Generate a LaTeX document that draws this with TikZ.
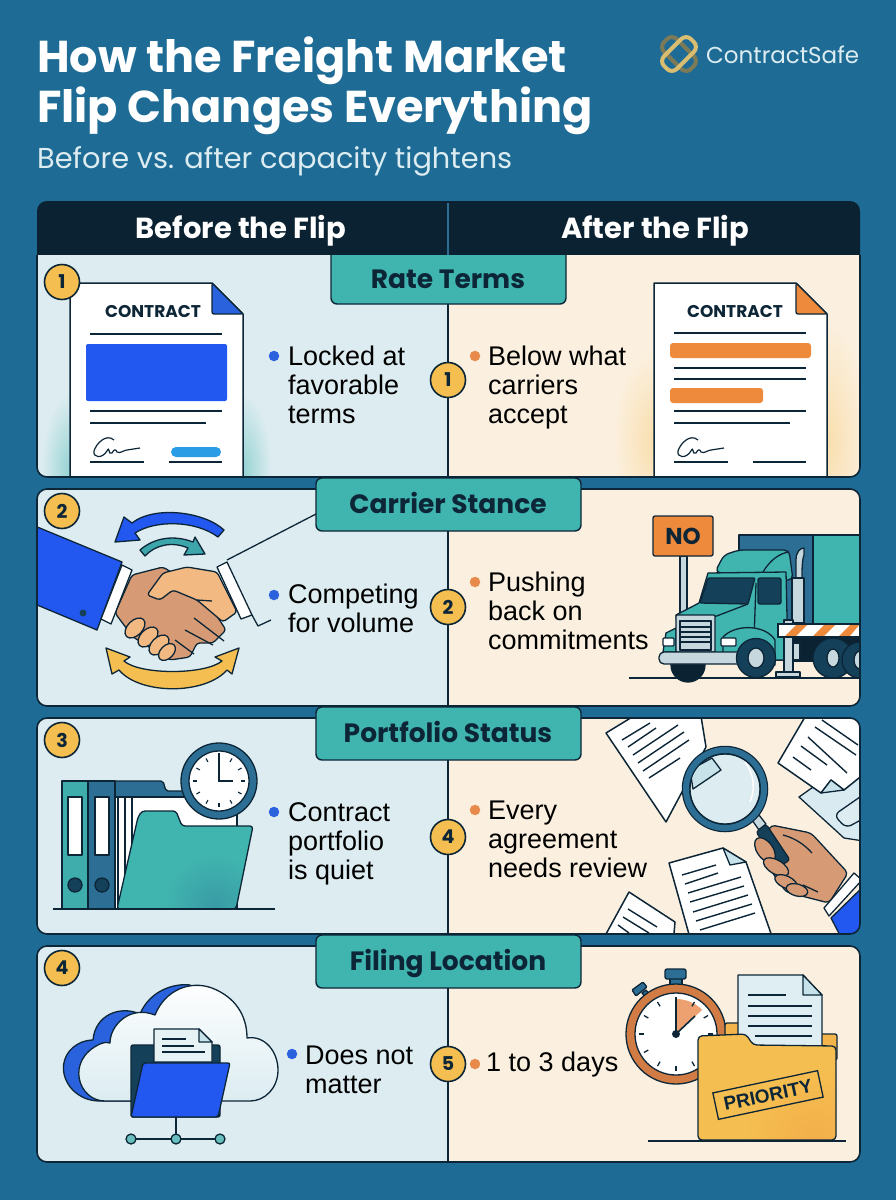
\documentclass[tikz,border=0pt]{standalone}
\usepackage{fontspec}
\setmainfont{Liberation Sans}
\newfontfamily\headfont{Poppins}
\definecolor{cover}{RGB}{30,108,150}
\definecolor{ink}{RGB}{13,38,55}
\definecolor{headbar}{RGB}{11,34,50}
\definecolor{panelblue}{RGB}{220,236,240}
\definecolor{panelcream}{RGB}{251,240,224}
\definecolor{tabteal}{RGB}{64,180,175}
\definecolor{badgegold}{RGB}{245,190,80}
\definecolor{royal}{RGB}{34,87,240}
\definecolor{pillblue}{RGB}{42,155,229}
\definecolor{dotblue}{RGB}{42,98,222}
\definecolor{dotorange}{RGB}{232,138,76}
\definecolor{barorange}{RGB}{238,138,60}
\definecolor{steel}{RGB}{44,110,148}
\definecolor{navy}{RGB}{20,64,90}
\definecolor{metal}{RGB}{198,215,221}
\definecolor{skin}{RGB}{214,155,116}
\definecolor{skinlight}{RGB}{242,185,130}
\definecolor{paleblue}{RGB}{200,226,234}
\definecolor{logogold}{RGB}{217,190,114}
\tikzset{
    titletext/.style={anchor=base west, inner sep=0, text=white, font=\headfont\bfseries\fontsize{44.6}{44.6}\selectfont},
    headtext/.style={anchor=base, inner sep=0, text=white, font=\headfont\bfseries\fontsize{29}{29}\selectfont},
    tablabel/.style={anchor=base, inner sep=0, text=ink, font=\headfont\bfseries\fontsize{26.5}{26.5}\selectfont},
    tabbox/.style={draw=ink, line width=1.4pt, fill=tabteal, rounded corners=6pt},
    panelline/.style={draw=ink, line width=1.6pt, rounded corners=10pt},
    badge/.style={circle, draw=ink, line width=1.6pt, fill=badgegold, minimum size=35pt, inner sep=0, text=ink, font=\headfont\bfseries\fontsize{19}{19}\selectfont},
    bluedot/.style={circle, fill=dotblue, minimum size=10.5pt, inner sep=0},
    orangedot/.style={circle, fill=dotorange, minimum size=10.5pt, inner sep=0},
    bodytext/.style={anchor=west, inner sep=0, align=left, text=black, font=\fontsize{27}{29}\selectfont, execute at begin node=\strut, execute at end node=\strut},
    paper/.style={draw=ink, line width=1.5pt, fill=white, line join=round},
    rule/.style={draw=ink, line width=1.4pt},
    sketch/.style={draw=ink, line width=1.3pt, line join=round},
    thinrule/.style={draw=ink, line width=1.2pt},
    doctitle/.style={inner sep=0, text=ink, font=\headfont\bfseries\fontsize{17}{17}\selectfont},
}
\newcommand{\signmark}[2]{\draw[ink, line width=1.2pt, shift={(#1,#2)}] (20,-18) .. controls (12,-25) and (2,-14) .. (0,-7) .. controls (-1,0) and (8,1) .. (13,-7) .. controls (16,-13) and (14,-2) .. (18,-5) .. controls (20,-9) and (22,-9) .. (23,-6) .. controls (26,-4) and (30,-8) .. (33,-8) -- (46,-10);}
\begin{document}
\begin{tikzpicture}[x=1pt, y=-1pt]
    \useasboundingbox (0,0) rectangle (896,1200);
    \fill[cover] (0,0) rectangle (896,1200);

    % heading
    \node[titletext] (titleone) at (37,72) {How the Freight Market};
    \node[titletext] (titletwo) at (37,122) {Flip Changes Everything};
    \node[anchor=base west, inner sep=0, text=panelblue, font=\headfont\fontsize{28.8}{28.8}\selectfont] (subtitle) at (37,168) {Before vs. after capacity tightens};
    \draw[logogold!55!ink, line width=4pt, rounded corners=7pt, rotate around={-45:(679,54)}] (660,45) rectangle (698,63);
    \draw[logogold, line width=4pt, rounded corners=7pt, rotate around={45:(679,54)}] (660,45) rectangle (698,63);
    \node[anchor=west, inner sep=0, text=panelblue, font=\headfont\fontsize{23}{23}\selectfont] (logotext) at (706,55) {ContractSafe};

    % column header
    \fill[headbar, rounded corners=10pt] (37,201) rectangle (860,270);
    \fill[headbar] (37,240) rectangle (860,270);
    \draw[steel, line width=1.2pt] (448,203) -- (448,255);

    % panel 1
    \begin{scope}
        \clip[rounded corners=10pt] (37,235) rectangle (860,477);
        \fill[panelblue] (37,255) rectangle (448,477);
        \fill[panelcream] (448,255) rectangle (860,477);
        \shade[inner color=tabteal!45!panelblue, outer color=panelblue] (70,470) circle[x radius=28pt, y radius=75pt];
        \shade[inner color=tabteal!45!panelblue, outer color=panelblue] (243,470) circle[x radius=28pt, y radius=75pt];
        \shade[inner color=badgegold!35!panelcream, outer color=panelcream] (654,440) circle[x radius=42pt, y radius=90pt];
        \shade[inner color=badgegold!35!panelcream, outer color=panelcream] (827,440) circle[x radius=42pt, y radius=120pt];
        \draw[paper] (70,490) -- (70,283) -- (212,283) -- (243,314) -- (243,490);
        \draw[sketch, fill=dotblue, rounded corners=2pt] (212,283) -- (212,314) -- (243,314) -- cycle;
        \node[doctitle] (contractone) at (153,312) {CONTRACT};
        \draw[rule] (90,334) -- (222,334);
        \fill[royal, rounded corners=2pt] (86,344) rectangle (227,401);
        \draw[rule] (90,411) -- (222,411);
        \draw[rule] (90,423) -- (206,423);
        \signmark{94}{458}
        \draw[rule] (90,462) -- (144,462);
        \draw[rule] (169,462) -- (222,462);
        \fill[pillblue, rounded corners=5pt] (171,447) rectangle (221,457);

        \draw[paper] (654,490) -- (654,283) -- (796,283) -- (827,314) -- (827,490);
        \draw[sketch, fill=barorange, rounded corners=2pt] (796,283) -- (796,314) -- (827,314) -- cycle;
        \node[doctitle] (contracttwo) at (735,312) {CONTRACT};
        \draw[rule] (674,333) -- (806,333);
        \fill[barorange, rounded corners=3pt] (670,343) rectangle (811,358);
        \draw[rule] (674,368) -- (806,368);
        \draw[rule] (674,379) -- (806,379);
        \fill[barorange, rounded corners=3pt] (670,388) rectangle (763,403);
        \draw[rule] (674,411) -- (806,411);
        \draw[rule] (674,423) -- (790,423);
        \signmark{678}{458}
        \draw[rule] (674,462) -- (728,462);
        \draw[rule] (753,462) -- (806,462);
    \end{scope}
    \draw[panelline] (37,255) -- (37,477) -- (860,477) -- (860,255);

    % panel 2
    \begin{scope}
        \clip[rounded corners=10pt] (37,489) rectangle (860,706);
        \fill[panelblue] (37,489) rectangle (448,706);
        \fill[panelcream] (448,489) rectangle (860,706);
        \draw[sketch, fill=royal] (224,530) .. controls (205,512) and (155,505) .. (132,523) -- (124,517) -- (115,542) -- (140,540) -- (135,533) .. controls (155,520) and (195,520) .. (218,537) -- cycle;
        \draw[sketch, fill=tabteal!80!steel] (140,550) .. controls (155,537) and (175,535) .. (193,542) -- (195,537) -- (205,554) -- (184,555) -- (188,548) .. controls (172,541) and (155,545) .. (145,556) -- cycle;
        \draw[sketch, fill=badgegold] (106,648) -- (130,657) -- (124,661) .. controls (140,675) and (205,675) .. (222,661) -- (215,657) -- (239,648) -- (232,674) -- (227,670) .. controls (205,695) and (140,695) .. (119,670) -- (112,674) -- cycle;
        \draw[sketch, fill=royal] (30,524) -- (122,562) -- (97,630) -- (30,602);
        \fill[navy] (83,613) circle (3.5pt);
        \draw[sketch, fill=skin, rounded corners=3pt] (132,575) -- (163,567) -- (200,590) -- (226,630) -- (213,643) -- (197,643) -- (190,657) -- (170,660) -- (133,637) -- (115,613) -- cycle;
        \draw[sketch, fill=skinlight] (135,628) circle[x radius=12pt, y radius=7.5pt, rotate=45];
        \draw[sketch, fill=skinlight] (148,637) circle[x radius=12pt, y radius=7.5pt, rotate=45];
        \draw[sketch, fill=skinlight] (159,645) circle[x radius=12pt, y radius=7.5pt, rotate=45];
        \draw[sketch, fill=skinlight] (167,652) circle[x radius=10pt, y radius=6.5pt, rotate=45];
        \draw[sketch, fill=skinlight, rounded corners=3pt] (147,595) -- (163,573) -- (187,567) -- (217,572) -- (237,612) -- (223,622) -- (197,600) -- (173,590) -- (160,600) -- cycle;
        \draw[sketch] (197,600) -- (212,601);
        \draw[sketch] (194,618) -- (224,641);
        \draw[sketch] (185,630) -- (213,645);
        \draw[sketch] (175,640) -- (194,654);
        \draw[sketch, fill=white] (122,565) -- (132,570) -- (111,624) -- (101,619) -- cycle;
        \draw[sketch, fill=white] (217,567) -- (227,562) -- (252,615) -- (241,619) -- cycle;
        \draw[sketch] (227,560) -- (316,514);
        \draw[sketch] (252,615) -- (258,626) -- (271,620);

        \fill[steel] (739,535) rectangle (813,623);
        \fill[tabteal] (813,535) rectangle (870,623);
        \draw[sketch] (739,623) -- (739,535) -- (870,535);
        \draw[sketch] (813,535) -- (813,623);
        \fill[headbar] (793,636) rectangle (870,662);
        \draw[sketch, fill=navy] (833,658) circle (20pt);
        \draw[sketch, fill=metal] (833,658) circle[x radius=6pt, y radius=9pt];
        \draw[sketch, fill=navy] (860,660) circle (18pt);
        \draw[sketch, fill=metal] (860,660) circle[x radius=6pt, y radius=9pt];
        \draw[rule] (629,678) -- (860,678);
        \draw[sketch, fill=metal] (680,556) rectangle (687,615);
        \draw[sketch, fill=barorange, rounded corners=2pt] (653,516) rectangle (713,556);
        \node[inner sep=0, text=ink, font=\headfont\bfseries\fontsize{23}{23}\selectfont] (nosign) at (683,536) {NO};
        \draw[sketch, fill=metal] (796,578) -- (796,560) .. controls (796,552) and (800,548) .. (804,548) -- (804,555) .. controls (802,560) and (802,570) .. (802,578) -- cycle;
        \draw[sketch, fill=metal] (792,578) rectangle (804,623);
        \draw[sketch, fill=metal] (774,643) rectangle (800,660);
        \draw[sketch, fill=headbar] (688,665) circle (17pt);
        \draw[sketch, fill=tabteal, rounded corners=5pt] (715,572) -- (724,555) -- (739,550) -- (789,550) -- (793,580) -- (763,580) -- cycle;
        \draw[sketch] (763,572) .. controls (770,560) and (780,553) .. (789,552);
        \draw[sketch, fill=tabteal] (676,615) -- (699,603) -- (708,573) -- (786,572) -- (788,660) -- (680,660) -- cycle;
        \draw[sketch, fill=navy, rounded corners=1pt] (700,603) -- (708,578) -- (755,578) -- (748,604) -- cycle;
        \draw[sketch, fill=navy, rounded corners=2pt] (758,578) rectangle (781,604);
        \draw[sketch] (714,617) -- (748,604);
        \draw[sketch] (756,583) -- (754,640);
        \draw[sketch, fill=tabteal] (663,652) -- (666,633) -- (676,628) -- (676,652) -- cycle;
        \draw[sketch, fill=white, rounded corners=1pt] (663,638) rectangle (674,646);
        \draw[sketch, fill=metal, rounded corners=1pt] (676,615) rectangle (715,652);
        \draw[sketch, fill=white] (680,621) rectangle (711,650);
        \draw[sketch, fill=metal] (680,621) rectangle (711,627);
        \draw[sketch, fill=metal] (680,627) rectangle (711,632);
        \draw[sketch, fill=metal] (680,632) rectangle (711,637);
        \draw[sketch, fill=metal] (680,637) rectangle (711,642);
        \draw[sketch, fill=metal] (680,642) rectangle (711,650);
        \draw[sketch, fill=tabteal] (723,654) -- (723,637) .. controls (735,624) and (765,624) .. (775,640) -- (775,665) -- cycle;
        \draw[sketch, fill=white, rounded corners=1pt] (721,638) rectangle (736,646);
        \draw[sketch, fill=metal, rounded corners=5pt] (659,652) rectangle (742,664);
        \draw[sketch, fill=navy] (756,658) circle (19.5pt);
        \draw[sketch, fill=metal] (756,658) circle[x radius=8pt, y radius=10pt];
        \draw[sketch, fill=metal] (784,620) rectangle (793,673);
        \draw[sketch, fill=metal] (776,672) rectangle (800,677);
        \draw[sketch, fill=white] (778,624) rectangle (870,637);
        \fill[barorange] (784,637) -- (797,624) -- (808,624) -- (795,637) -- cycle;
        \fill[barorange] (812,637) -- (825,624) -- (836,624) -- (823,637) -- cycle;
        \fill[barorange] (838,637) -- (851,624) -- (860,624) -- (849,637) -- cycle;
        \draw[sketch] (778,624) rectangle (870,637);
    \end{scope}
    \draw[panelline] (37,489) rectangle (860,706);

    % panel 3
    \begin{scope}
        \clip[rounded corners=10pt] (37,718) rectangle (860,934);
        \fill[panelblue] (37,718) rectangle (448,934);
        \fill[panelcream] (448,718) rectangle (860,934);
        \draw[sketch, fill=steel, rounded corners=2pt] (110,909) -- (110,781) -- (163,781) -- (166,791) -- (190,791) -- (190,909) -- cycle;
        \draw[sketch, fill=white] (114,797) rectangle (237,909);
        \draw[thinrule] (118,797) -- (118,909);
        \draw[thinrule] (125,797) -- (125,909);
        \draw[thinrule] (132,797) -- (132,909);
        \draw[sketch, fill=tabteal!90!steel] (62,781) rectangle (88,909);
        \draw[sketch, fill=white] (68,797) rectangle (82,855);
        \draw[sketch, fill=navy] (75,885) circle (7pt);
        \draw[sketch, fill=steel] (88,781) rectangle (115,909);
        \draw[sketch, fill=white] (95,797) rectangle (109,855);
        \draw[sketch, fill=navy] (102,885) circle (7pt);
        \begin{scope}
            \clip[rounded corners=3pt] (117,909) -- (138,817) -- (142,811) -- (176,811) -- (182,826) -- (253,826) -- (236,909) -- cycle;
            \fill[tabteal] (110,805) rectangle (260,915);
            \shade[inner color=tabteal!65!steel, outer color=tabteal] (215,905) circle (50pt);
        \end{scope}
        \draw[sketch, rounded corners=3pt] (117,909) -- (138,817) -- (142,811) -- (176,811) -- (182,826) -- (253,826) -- (236,909) -- cycle;
        \draw[rule] (53,909) -- (275,909);
        \draw[sketch, fill=steel] (219,781) circle (38pt);
        \draw[sketch, fill=white] (219,781) circle (30pt);
        \foreach \tickangle in {0,30,...,330}
            \draw[ink, line width=1.1pt] (219,781) ++(\tickangle:26) -- ++(\tickangle:-4);
        \draw[ink, line width=1.5pt] (219,753) -- (219,781) -- (233,781);

        \draw[paper] (606,733) -- (660,700) -- (700,710) -- (706,747) -- (666,822) -- cycle;
        \draw[rule] (622,740) -- (650,723);
        \draw[rule] (628,747) -- (656,728);
        \draw[rule] (633,755) -- (678,725);
        \draw[rule] (638,763) -- (684,732);
        \draw[rule] (643,771) -- (689,740);
        \draw[rule] (649,778) -- (680,758);
        \draw[sketch, fill=paleblue!70!white] (799,797) -- (823,780) -- (870,777) -- (870,842) -- (844,838) -- cycle;
        \draw[sketch, fill=panelblue, rounded corners=6pt] (834,815) -- (870,790) -- (870,815) -- (846,828) -- cycle;
        \draw[paper] (778,763) -- (812,705) -- (875,705) -- (875,765) -- (844,790) -- (831,780) -- (821,793) -- cycle;
        \draw[sketch, fill=paleblue] (821,793) -- (831,780) -- (844,790) -- cycle;
        \draw[rule] (793,757) -- (811,770);
        \draw[rule] (801,746) -- (827,765);
        \draw[rule] (808,737) -- (847,773);
        \draw[rule] (815,727) -- (856,755);
        \draw[rule] (822,720) -- (858,745);
        \draw[paper] (600,945) -- (629,892) -- (675,922) -- (673,945) -- cycle;
        \draw[rule] (628,909) -- (657,927);
        \draw[rule] (623,917) -- (649,933);
        \draw[rule] (618,925) -- (629,933);
        \draw[paper] (669,863) -- (723,848) -- (746,862) -- (775,945) -- (692,945) -- cycle;
        \draw[sketch, fill=paleblue] (723,848) -- (730,865) -- (746,862) -- cycle;
        \draw[rule] (682,875) -- (716,865);
        \draw[rule] (685,884) -- (718,873);
        \draw[rule] (688,893) -- (741,877);
        \draw[rule] (690,902) -- (744,886);
        \draw[rule] (693,912) -- (748,895);
        \draw[rule] (696,921) -- (752,904);
        \draw[rule] (700,930) -- (755,913);
        \draw[sketch, fill=panelblue] (725,789) circle (35pt);
        \draw[sketch, fill=paleblue] (712,758) -- (721,770) -- (693,789) -- (690,770) -- cycle;
        \draw[white, line width=1.5pt] (745,762) .. controls (755,775) and (755,790) .. (750,802);
        \draw[sketch, fill=metal] (752,820) -- (759,815) -- (766,824) -- (759,830) -- cycle;
        \draw[sketch, fill=skin, rounded corners=4pt] (771,825) -- (811,833) -- (848,873) -- (829,903) -- (786,892) -- (758,852) -- cycle;
        \draw[sketch, fill=navy, rounded corners=3pt] (756,832) -- (766,824) -- (790,860) -- (780,866) -- cycle;
        \draw[sketch, fill=skin] (765,850) circle[x radius=14pt, y radius=8pt, rotate=-55];
        \draw[sketch, fill=skin] (776,867) circle[x radius=14pt, y radius=7pt, rotate=-30];
        \draw[sketch, fill=skin] (786,882) circle[x radius=12pt, y radius=6pt, rotate=-25];
        \draw[sketch, fill=skin] (797,890) circle[x radius=11pt, y radius=6pt, rotate=-15];
        \draw[sketch] (783,835) .. controls (795,838) and (805,845) .. (812,853);
        \draw[sketch] (803,885) -- (818,892);
        \draw[sketch, fill=royal] (870,880) -- (870,945) -- (845,945) -- (831,918) -- cycle;
        \draw[sketch, fill=white] (854,873) -- (862,880) -- (829,916) -- (824,908) -- cycle;
        \draw[line width=8.5pt, draw=ink] (725,789) circle (39pt);
        \draw[line width=6pt, draw=steel] (725,789) circle (39pt);
    \end{scope}
    \draw[panelline] (37,718) rectangle (860,934);

    % panel 4
    \begin{scope}
        \clip[rounded corners=10pt] (37,946) rectangle (860,1162);
        \fill[panelblue] (37,946) rectangle (448,1162);
        \fill[panelcream] (448,946) rectangle (860,1162);
        \draw[sketch, fill=dotblue] (100,1101) .. controls (65,1101) and (50,1060) .. (78,1044) .. controls (85,1040) and (92,1040) .. (93,1040) .. controls (95,1015) and (120,1005) .. (140,1014) .. controls (150,990) and (175,983) .. (190,985) -- (240,1060) -- (200,1101) -- cycle;
        \draw[sketch, top color=white, middle color=white, bottom color=paleblue!65!white] (105,1101) .. controls (78,1101) and (65,1060) .. (100,1044) .. controls (105,1042) and (108,1042) .. (110,1043) .. controls (110,1025) and (130,1005) .. (155,1015) .. controls (165,990) and (190,980) .. (212,988) .. controls (235,997) and (247,1015) .. (247,1038) .. controls (265,1035) and (278,1052) .. (278,1070) .. controls (278,1088) and (265,1101) .. (250,1101) -- cycle;
        \draw[sketch, fill=navy, rounded corners=2pt] (131,1045) rectangle (220,1117);
        \draw[sketch, fill=panelblue!70!white] (154,1062) -- (154,1029) -- (199,1029) -- (212,1042) -- (212,1062) -- cycle;
        \draw[sketch, fill=paleblue] (199,1029) -- (199,1042) -- (212,1042) -- cycle;
        \draw[thinrule] (162,1039) -- (186,1039);
        \draw[thinrule] (162,1046) -- (194,1046);
        \draw[thinrule] (162,1052) -- (205,1052);
        \draw[sketch, fill=royal, rounded corners=2pt] (143,1063) -- (230,1063) -- (218,1117) -- (131,1117) -- cycle;
        \draw[rule] (176,1117) -- (176,1139);
        \draw[rule] (131,1139) -- (220,1139);
        \draw[sketch, fill=tabteal!70!metal] (131,1139) circle (5pt);
        \draw[sketch, fill=tabteal!70!metal] (176,1139) circle (5pt);
        \draw[sketch, fill=tabteal!70!metal] (220,1139) circle (5pt);

        \draw[sketch, fill=steel] (670,978) rectangle (682,986);
        \draw[sketch, fill=steel, rounded corners=2pt] (665,969) rectangle (686,979);
        \draw[sketch, fill=steel, rounded corners=1pt] (632,990) -- (643,982) -- (647,987) -- (636,996) -- cycle;
        \draw[sketch, fill=steel] (642,993) -- (646,990) -- (650,995) -- (646,998) -- cycle;
        \draw[sketch, fill=dotorange!90!black] (676,1034) circle (50pt);
        \draw[sketch, fill=white] (676,1034) circle (41pt);
        \fill[dotorange!80!white] (676,1034) -- (676,999) .. controls (687,999) and (697,1004) .. (702,1010) -- cycle;
        \foreach \tickangle in {0,30,...,330}
            \draw[ink, line width=1.3pt] (676,1034) ++(\tickangle:37) -- ++(\tickangle:-5);
        \draw[ink, line width=1.6pt] (676,998) -- (676,1034) -- (695,1016);
        \fill[ink] (676,1034) circle (4pt);
        \draw[sketch, fill=badgegold!80!barorange, rounded corners=2pt] (725,1060) -- (725,1023) -- (740,1023) -- (740,1034) -- (822,1034) -- (837,1034) -- (837,1060) -- cycle;
        \draw[sketch, fill=paleblue!60!white] (738,1050) -- (738,975) -- (803,975) -- (822,995) -- (822,1050) -- cycle;
        \draw[sketch, fill=paleblue] (803,975) -- (803,995) -- (822,995) -- cycle;
        \draw[rule] (748,995) -- (786,995);
        \draw[rule] (748,1006) -- (812,1006);
        \draw[rule] (748,1016) -- (812,1016);
        \draw[rule] (748,1026) -- (812,1026);
        \draw[rule] (755,1036) -- (812,1036);
        \begin{scope}
            \clip[rounded corners=4pt] (698,1036) -- (746,1034) -- (753,1045) -- (836,1046) -- (836,1140) -- (698,1140) -- cycle;
            \fill[badgegold] (690,1030) rectangle (840,1145);
            \shade[inner color=badgegold!70!barorange, outer color=badgegold] (815,1140) circle (70pt);
        \end{scope}
        \draw[sketch, rounded corners=4pt] (698,1036) -- (746,1034) -- (753,1045) -- (836,1046) -- (836,1140) -- (698,1140) -- cycle;
        \node[draw=ink, line width=1.3pt, rotate=12, minimum width=107pt, minimum height=27pt, inner sep=0, text=ink, font=\bfseries\fontsize{19}{19}\selectfont] (prioritystamp) at (768,1095) {PRIORITY};
        \draw[rule] (648,1141) -- (846,1141);
    \end{scope}
    \draw[panelline] (37,946) rectangle (860,1162);

    % centre rule
    \draw[ink, line width=1.6pt] (448,255) -- (448,477);
    \draw[ink, line width=1.6pt] (448,489) -- (448,706);
    \draw[ink, line width=1.6pt] (448,718) -- (448,934);
    \draw[ink, line width=1.6pt] (448,946) -- (448,1162);

    % tabs
    \draw[tabbox] (331,250) -- (331,304) -- (566,304) -- (566,250);
    \draw[tabbox] (316,478) -- (316,531) -- (581,531) -- (581,478) -- cycle;
    \draw[tabbox] (316,707) -- (316,760) -- (581,760) -- (581,707) -- cycle;
    \draw[tabbox] (316,935) -- (316,988) -- (581,988) -- (581,935) -- cycle;
    \fill[headbar] (325,240) rectangle (572,255);
    \draw[steel, line width=1.2pt] (448,240) -- (448,255);
    \node[headtext] (beforehead) at (241,238) {Before the Flip};
    \node[headtext] (afterhead) at (655,238) {After the Flip};
    \node[tablabel] (rateterms) at (448,288) {Rate Terms};
    \node[tablabel] (carrierstance) at (448,513) {Carrier Stance};
    \node[tablabel] (portfoliostatus) at (448,742) {Portfolio Status};
    \node[tablabel] (filinglocation) at (448,970) {Filing Location};

    % number badges
    \node[badge] (badgeone) at (62,282) {1};
    \node[badge] (badgetwo) at (62,511) {2};
    \node[badge] (badgethree) at (62,740) {3};
    \node[badge] (badgefour) at (62,968) {4};
    \node[badge] (midone) at (448,380) {1};
    \node[badge] (midtwo) at (448,607) {2};
    \node[badge] (midfour) at (448,837) {4};
    \node[badge] (midfive) at (448,1064) {5};

    % bullets
    \node[bluedot] (dotone) at (274,356) {};
    \node[bodytext] (lockedtext) at (288,389) {Locked at\\favorable\\terms};
    \node[orangedot] (dottwo) at (475,356) {};
    \node[bodytext] (belowtext) at (488,389) {Below what\\carriers\\accept};
    \node[bluedot] (dotthree) at (274,595) {};
    \node[bodytext] (competingtext) at (288,613) {Competing\\for volume};
    \node[orangedot] (dotfour) at (475,582) {};
    \node[bodytext] (pushingtext) at (488,615) {Pushing\\back on\\commitments};
    \node[bluedot] (dotfive) at (274,812) {};
    \node[bodytext] (quiettext) at (288,845) {Contract\\portfolio\\is quiet};
    \node[orangedot] (dotsix) at (475,810) {};
    \node[bodytext] (everytext) at (488,844) {Every\\agreement\\needs review};
    \node[bluedot] (dotseven) at (292,1054) {};
    \node[bodytext] (doesnottext) at (305,1074) {Does not\\matter};
    \node[orangedot] (doteight) at (475,1064) {};
    \node[bodytext] (daystext) at (486,1066) {1 to 3 days};
\end{tikzpicture}
\end{document}
